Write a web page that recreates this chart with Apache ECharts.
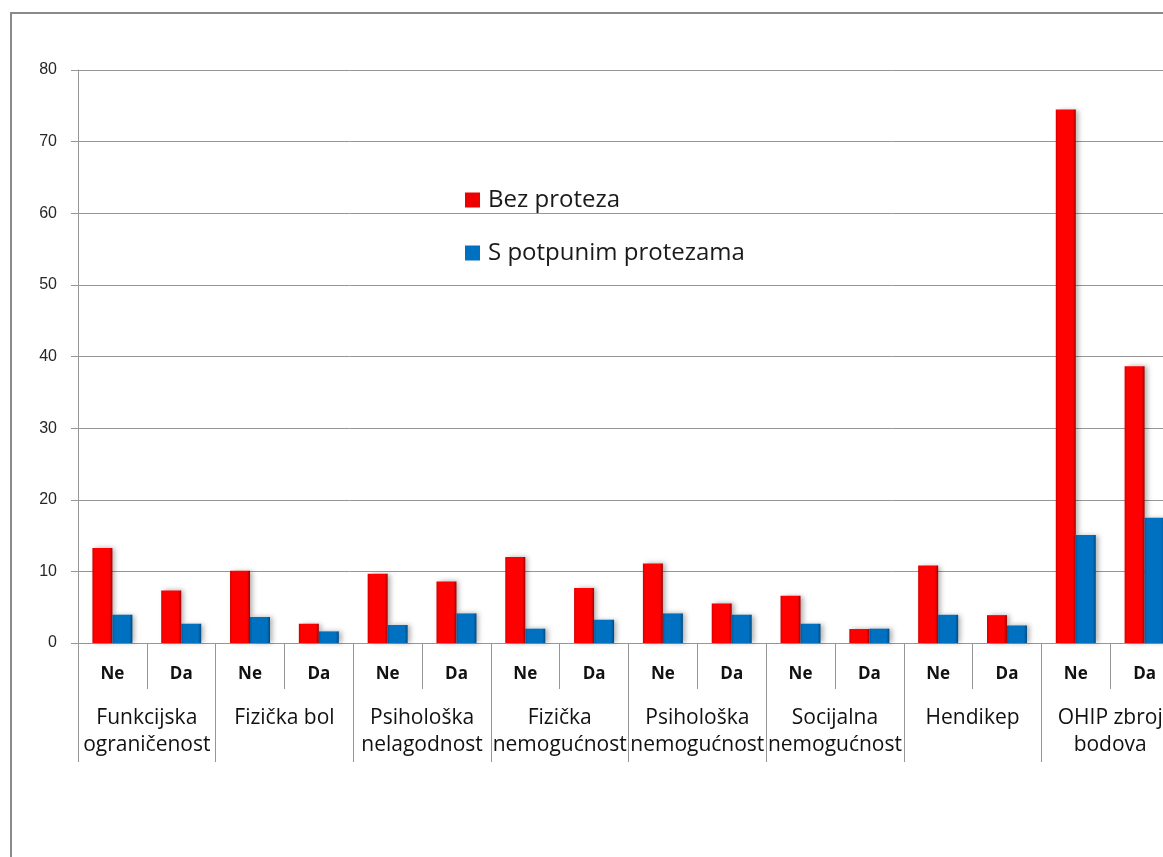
<!DOCTYPE html>
<html>
<head>
<meta charset="utf-8">
<script src="https://cdn.jsdelivr.net/npm/echarts@6/dist/echarts.min.js"></script>
<style>
html,body{margin:0;padding:0;background:#fff;}
#chart{width:1163px;height:857px;}
</style>
</head>
<body>
<div id="chart"></div>
<script>
const subLabels = ['Ne','Da','Ne','Da','Ne','Da','Ne','Da','Ne','Da','Ne','Da','Ne','Da','Ne','Da'];
const groupLabels = ['Funkcijska\nograničenost','Fizička bol','Psihološka\nnelagodnost','Fizička\nnemogućnost','Psihološka\nnemogućnost','Socijalna\nnemogućnost','Hendikep','OHIP zbroj\nbodova'];
const seriesNames = ['Bez proteza','S potpunim protezama'];
const bezProteza = [13.25, 7.34, 10.08, 2.69, 9.67, 8.6, 12.0, 7.67, 11.1, 5.52, 6.6, 1.95, 10.82, 3.89, 74.47, 38.65];
const sProtezama = [3.95, 2.69, 3.63, 1.62, 2.51, 4.13, 2.0, 3.25, 4.13, 3.95, 2.69, 2.0, 3.94, 2.45, 15.09, 17.48];
const yTicks = {min: 0, max: 80, interval: 10};

const chart = echarts.init(document.getElementById('chart'), null, {renderer: 'canvas'});
const axisGrey = '#969696';
function grad(c0, c1, c2) {
  return new echarts.graphic.LinearGradient(0, 0, 1, 0, [
    {offset: 0, color: c0}, {offset: 0.12, color: c1}, {offset: 0.85, color: c1}, {offset: 1, color: c2}
  ]);
}
const option = {
  backgroundColor: '#fff',
  animation: false,
  graphic: [{
    type: 'rect', silent: true, z: -1,
    shape: {x: 11, y: 13, width: 1250, height: 950},
    style: {fill: 'none', stroke: '#8a8a8a', lineWidth: 2}
  }],
  legend: {
    orient: 'vertical', left: 460, top: 183, itemWidth: 15, itemHeight: 15, itemGap: 29,
    icon: 'rect',
    textStyle: {fontFamily: 'Open Sans', fontSize: 24, color: '#1a1a1a', lineHeight: 24, padding: [0, 0, 0, 3]},
    data: [
      {name: seriesNames[0], itemStyle: {color: '#ee0000'}},
      {name: seriesNames[1], itemStyle: {color: '#0070c0'}}
    ]
  },
  grid: {left: 78, top: 70, width: 1101, height: 573, outerBoundsMode: 'none', containLabel: false},
  xAxis: [{
    type: 'category', data: subLabels, position: 'bottom',
    axisLine: {show: true, lineStyle: {color: axisGrey, width: 1}},
    axisTick: {show: true, length: 46, interval: 0, lineStyle: {color: axisGrey}},
    axisLabel: {interval: 0, margin: 21, fontFamily: 'Open Sans', fontWeight: 'bold', fontSize: 17, color: '#111', lineHeight: 20}
  }, {
    type: 'category', data: groupLabels, position: 'bottom',
    axisLine: {show: false},
    axisTick: {show: true, length: 119, interval: 0, lineStyle: {color: axisGrey}},
    axisLabel: {interval: 0, margin: 62, fontFamily: 'Open Sans', fontSize: 21, color: '#111', lineHeight: 27}
  }],
  yAxis: {
    type: 'value', min: yTicks.min, max: yTicks.max, interval: yTicks.interval,
    axisLine: {show: true, lineStyle: {color: axisGrey}},
    axisTick: {show: true, length: 7, lineStyle: {color: axisGrey}},
    splitLine: {show: true, lineStyle: {color: axisGrey, width: 1}},
    axisLabel: {margin: 21, fontFamily: 'Liberation Sans', fontSize: 16, color: '#262626'}
  },
  series: [{
    name: seriesNames[0], type: 'bar', xAxisIndex: 0, data: bezProteza,
    barWidth: 20, barGap: '0%',
    itemStyle: {color: grad('#d40000', '#ff0000', '#a00000'), shadowColor: 'rgba(0,0,0,0.3)', shadowBlur: 5, shadowOffsetX: 3}
  }, {
    name: seriesNames[1], type: 'bar', xAxisIndex: 0, data: sProtezama,
    barWidth: 20, barGap: '0%',
    itemStyle: {color: grad('#005a9e', '#0070c0', '#004a80'), shadowColor: 'rgba(0,0,0,0.3)', shadowBlur: 5, shadowOffsetX: 3}
  }]
};
chart.setOption(option);
</script>
</body>
</html>
